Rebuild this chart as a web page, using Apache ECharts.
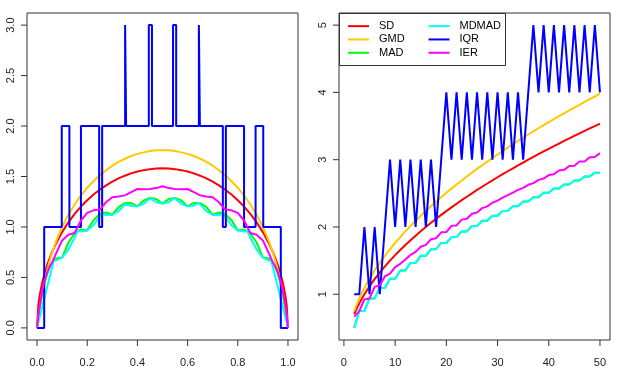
<!DOCTYPE html>
<html>
<head>
<meta charset="utf-8">
<script src="https://cdn.jsdelivr.net/npm/echarts@6/dist/echarts.min.js"></script>
<style>
  html, body { margin: 0; padding: 0; background: #fff; }
  #chart { width: 624px; height: 367px; }
</style>
</head>
<body>
<div id="chart"></div>
<script>
// left panel: p on x
const pGrid = [0, 0.005, 0.01, 0.02, 0.03, 0.04, 0.05, 0.06, 0.075, 0.1, 0.125, 0.15, 0.175, 0.2, 0.225, 0.25, 0.275, 0.3, 0.325, 0.35, 0.375, 0.4, 0.425, 0.45, 0.475, 0.5,
  0.525, 0.55, 0.575, 0.6, 0.625, 0.65, 0.675, 0.7, 0.725, 0.75, 0.775, 0.8, 0.825, 0.85, 0.875, 0.9, 0.925, 0.94, 0.95, 0.96, 0.97, 0.98, 0.99, 0.995, 1]
const sdL = [0, 0.223, 0.315, 0.443, 0.539, 0.620, 0.689, 0.751, 0.833, 0.949, 1.046, 1.129, 1.202, 1.265, 1.321, 1.369, 1.412, 1.449, 1.481, 1.508, 1.531, 1.549, 1.563, 1.573, 1.579, 1.581,
  1.579, 1.573, 1.563, 1.549, 1.531, 1.508, 1.481, 1.449, 1.412, 1.369, 1.321, 1.265, 1.202, 1.129, 1.046, 0.949, 0.833, 0.751, 0.689, 0.620, 0.539, 0.443, 0.315, 0.223, 0]
const gmdL = [0, 0.095, 0.182, 0.332, 0.460, 0.569, 0.663, 0.746, 0.853, 1.002, 1.122, 1.225, 1.311, 1.389, 1.453, 1.512, 1.562, 1.607, 1.644, 1.676, 1.703, 1.724, 1.739, 1.752, 1.759, 1.761,
  1.759, 1.752, 1.739, 1.724, 1.703, 1.676, 1.644, 1.607, 1.562, 1.512, 1.453, 1.389, 1.311, 1.225, 1.122, 1.002, 0.853, 0.746, 0.663, 0.569, 0.460, 0.332, 0.182, 0.095, 0]
const madL = [0, 0.095, 0.181, 0.327, 0.442, 0.532, 0.599, 0.646, 0.688, 0.697, 0.846, 0.938, 0.976, 0.966, 1.067, 1.126, 1.143, 1.121, 1.197, 1.236, 1.238, 1.204, 1.263, 1.287, 1.276, 1.231,
  1.276, 1.287, 1.263, 1.204, 1.238, 1.236, 1.197, 1.121, 1.143, 1.126, 1.067, 0.966, 0.976, 0.938, 0.846, 0.697, 0.688, 0.646, 0.599, 0.532, 0.442, 0.327, 0.181, 0.095, 0]
const ierL = [0, 0.119, 0.216, 0.363, 0.469, 0.547, 0.605, 0.647, 0.734, 0.867, 0.922, 0.940, 1.064, 1.139, 1.165, 1.172, 1.245, 1.294, 1.302, 1.313, 1.345, 1.376, 1.373, 1.376, 1.385, 1.403,
  1.385, 1.376, 1.373, 1.376, 1.345, 1.313, 1.302, 1.294, 1.245, 1.172, 1.165, 1.139, 1.064, 0.940, 0.922, 0.867, 0.734, 0.647, 0.605, 0.547, 0.469, 0.363, 0.216, 0.119, 0]
// MDMAD has its own grid (kinks where the median changes)
const pMdmad = [0, 0.005, 0.01, 0.02, 0.03, 0.04, 0.05, 0.06, 0.067, 0.075, 0.1, 0.125, 0.15, 0.162, 0.175, 0.2, 0.225, 0.25, 0.258, 0.275, 0.3, 0.325, 0.35, 0.355, 0.375, 0.4, 0.425, 0.45, 0.452, 0.475, 0.5,
  0.525, 0.548, 0.55, 0.575, 0.6, 0.625, 0.645, 0.65, 0.675, 0.7, 0.725, 0.742, 0.75, 0.775, 0.8, 0.825, 0.838, 0.85, 0.875, 0.9, 0.925, 0.933, 0.94, 0.95, 0.96, 0.97, 0.98, 0.99, 0.995, 1]
const mdmadL = [0, 0.05, 0.1, 0.2, 0.3, 0.4, 0.5, 0.6, 0.67, 0.667, 0.697, 0.776, 0.894, 0.962, 0.954, 0.966, 1.017, 1.101, 1.134, 1.119, 1.121, 1.156, 1.222, 1.239, 1.211, 1.204, 1.229, 1.283, 1.288, 1.245, 1.231,
  1.245, 1.288, 1.283, 1.229, 1.204, 1.211, 1.239, 1.222, 1.156, 1.121, 1.119, 1.134, 1.101, 1.017, 0.966, 0.954, 0.962, 0.894, 0.776, 0.697, 0.667, 0.67, 0.6, 0.5, 0.4, 0.3, 0.2, 0.1, 0.05, 0]
// IQR is a step function
const iqrP = [0, 0.0285, 0.0985, 0.129, 0.175, 0.2475, 0.2595, 0.351, 0.355, 0.4455, 0.458, 0.542, 0.5545, 0.645, 0.649, 0.7405, 0.7525, 0.825, 0.871, 0.9015, 0.9715, 1]
const iqrL = [0, 1, 2, 1, 2, 1, 2, 3, 2, 3, 2, 3, 2, 3, 2, 1, 2, 1, 2, 1, 0, 0]

// right panel: n on x
const nVals = [2, 3, 4, 5, 6, 7, 8, 9, 10, 11, 12, 13, 14, 15, 16, 17, 18, 19, 20, 21, 22, 23, 24, 25, 26,
  27, 28, 29, 30, 31, 32, 33, 34, 35, 36, 37, 38, 39, 40, 41, 42, 43, 44, 45, 46, 47, 48, 49, 50]
const sdR = [0.707, 0.866, 1, 1.118, 1.225, 1.323, 1.414, 1.5, 1.581, 1.658, 1.732, 1.803, 1.871, 1.936, 2, 2.062, 2.121, 2.179, 2.236, 2.291, 2.345, 2.398, 2.449, 2.5, 2.55,
  2.598, 2.646, 2.693, 2.739, 2.784, 2.828, 2.872, 2.915, 2.958, 3, 3.041, 3.082, 3.122, 3.162, 3.202, 3.24, 3.279, 3.317, 3.354, 3.391, 3.428, 3.464, 3.5, 3.536]
const gmdR = [0.75, 0.938, 1.094, 1.231, 1.354, 1.466, 1.571, 1.669, 1.762, 1.85, 1.934, 2.015, 2.092, 2.167, 2.239, 2.309, 2.377, 2.443, 2.508, 2.57, 2.631, 2.691, 2.75, 2.807, 2.863,
  2.918, 2.972, 3.025, 3.077, 3.129, 3.179, 3.229, 3.278, 3.326, 3.374, 3.42, 3.467, 3.512, 3.557, 3.602, 3.646, 3.689, 3.732, 3.774, 3.816, 3.858, 3.899, 3.939, 3.98]
const madR = [0.5, 0.75, 0.75, 0.938, 0.938, 1.094, 1.094, 1.231, 1.231, 1.354, 1.354, 1.466, 1.466, 1.571, 1.571, 1.669, 1.669, 1.762, 1.762, 1.85, 1.85, 1.934, 1.934, 2.015, 2.015,
  2.092, 2.092, 2.167, 2.167, 2.239, 2.239, 2.309, 2.309, 2.377, 2.377, 2.443, 2.443, 2.508, 2.508, 2.57, 2.57, 2.631, 2.631, 2.691, 2.691, 2.75, 2.75, 2.807, 2.807]
const mdmadR = [0.5, 0.75, 0.75, 0.938, 0.938, 1.094, 1.094, 1.231, 1.231, 1.354, 1.354, 1.466, 1.466, 1.571, 1.571, 1.669, 1.669, 1.762, 1.762, 1.85, 1.85, 1.934, 1.934, 2.015, 2.015,
  2.092, 2.092, 2.167, 2.167, 2.239, 2.239, 2.309, 2.309, 2.377, 2.377, 2.443, 2.443, 2.508, 2.508, 2.57, 2.57, 2.631, 2.631, 2.691, 2.691, 2.75, 2.75, 2.807, 2.807]
const iqrR = [1, 1, 2, 1, 2, 1, 2, 3, 2, 3, 2, 3, 2, 3, 2, 3, 2, 3, 4, 3, 4, 3, 4, 3, 4,
  3, 4, 3, 4, 3, 4, 3, 4, 3, 4, 5, 4, 5, 4, 5, 4, 5, 4, 5, 4, 5, 4, 5, 4]
const ierR = [0.667, 0.75, 0.923, 0.938, 1.111, 1.129, 1.267, 1.306, 1.403, 1.452, 1.517, 1.585, 1.63, 1.706, 1.734, 1.817, 1.832, 1.92, 1.924, 2.017, 2.023, 2.109, 2.122, 2.196, 2.216,
  2.28, 2.306, 2.36, 2.391, 2.437, 2.473, 2.511, 2.551, 2.582, 2.627, 2.652, 2.7, 2.719, 2.771, 2.785, 2.84, 2.849, 2.907, 2.911, 2.972, 2.972, 3.035, 3.039, 3.097]

// tick labels
const xTicksL = [0, 0.2, 0.4, 0.6, 0.8, 1]
const yTicksL = [0, 0.5, 1, 1.5, 2, 2.5, 3]
const xTicksR = [0, 10, 20, 30, 40, 50]
const yTicksR = [1, 2, 3, 4, 5]

// axis ranges (R adds 4% on each side)
const xRangeL = [-0.04, 1.04]
const yRangeL = [-0.12, 3.12]
const xRangeR = [-0.96, 51.96]
const yRangeR = [0.32, 5.18]

const colors = { SD: '#ff0000', GMD: '#ffc800', MAD: '#00ff00', MDMAD: '#00ffff', IQR: '#0000ff', IER: '#ff00ff' }
const font = '"Liberation Sans", Arial, sans-serif'

const pairs = (xs, ys) => xs.map((x, i) => [x, ys[i]])

// 一条线
const line = (name, xs, ys, idx, extra) => Object.assign({
  type: 'line',
  name: name,
  xAxisIndex: idx,
  yAxisIndex: idx,
  data: pairs(xs, ys),
  symbol: 'none',
  showSymbol: false,
  silent: true,
  lineStyle: { color: colors[name], width: 2 },
  itemStyle: { color: colors[name] },
}, extra)

// 刻度线放进标签里（富文本小方块），文字在外侧
const tickRich = {
  t: { width: 1, height: 6, lineHeight: 6, backgroundColor: '#333' },
  sx: { height: 11, lineHeight: 11 },
  sy: { height: 5, lineHeight: 5 },
  n: { fontSize: 11, lineHeight: 11, fontFamily: font, color: '#222' },
}

const axisBase = (range, ticksV, fmt, isY) => ({
  type: 'value',
  min: range[0],
  max: range[1],
  axisLine: { show: false, onZero: false },
  splitLine: { show: false },
  axisTick: { show: false },
  axisLabel: {
    customValues: ticksV,
    formatter: isY
      ? v => '{n|' + fmt(v) + '}\n{sy|}\n{t|}'
      : v => '{t|}\n{sx|}\n{n|' + fmt(v) + '}',
    rotate: isY ? 90 : 0,
    margin: 0,
    rich: tickRich,
  },
})

const legendBase = {
  orient: 'vertical',
  top: 19.5,
  padding: 0,
  itemGap: 0,
  itemWidth: 21,
  itemHeight: 2,
  icon: 'rect',
  selectedMode: false,
  textStyle: { fontSize: 11, fontFamily: font, color: '#000', lineHeight: 13.3, padding: [0, 0, 0, 5] },
}

const option = {
  animation: false,
  backgroundColor: '#fff',
  grid: [
    { left: 27, top: 13, width: 271, height: 327, show: true, borderColor: '#333', borderWidth: 1, backgroundColor: 'transparent', outerBoundsMode: 'none' },
    { left: 339, top: 13, width: 271, height: 327, show: true, borderColor: '#333', borderWidth: 1, backgroundColor: 'transparent', outerBoundsMode: 'none' },
  ],
  xAxis: [
    Object.assign(axisBase(xRangeL, xTicksL, v => v.toFixed(1), false), { gridIndex: 0, position: 'bottom' }),
    Object.assign(axisBase(xRangeR, xTicksR, v => String(v), false), { gridIndex: 1, position: 'bottom' }),
  ],
  yAxis: [
    Object.assign(axisBase(yRangeL, yTicksL, v => v.toFixed(1), true), { gridIndex: 0, position: 'left' }),
    Object.assign(axisBase(yRangeR, yTicksR, v => String(v), true), { gridIndex: 1, position: 'left' }),
  ],
  legend: [
    Object.assign({}, legendBase, { left: 348, data: ['SD', 'GMD', 'MAD'] }),
    Object.assign({}, legendBase, { left: 428.5, data: ['MDMAD', 'IQR', 'IER'] }),
  ],
  graphic: [
    // legend box
    { type: 'rect', z: 3, silent: true, shape: { x: 339.5, y: 13.5, width: 166, height: 52 }, style: { fill: '#fff', stroke: '#333', lineWidth: 1 } },
  ],
  series: [
    line('SD', pGrid, sdL, 0),
    line('GMD', pGrid, gmdL, 0),
    line('MAD', pGrid, madL, 0),
    line('MDMAD', pMdmad, mdmadL, 0),
    line('IQR', iqrP, iqrL, 0, { step: 'end' }),
    line('IER', pGrid, ierL, 0),
    line('SD', nVals, sdR, 1),
    line('GMD', nVals, gmdR, 1),
    line('MAD', nVals, madR, 1),
    line('MDMAD', nVals, mdmadR, 1),
    line('IQR', nVals, iqrR, 1),
    line('IER', nVals, ierR, 1),
  ],
}

const chart = echarts.init(document.getElementById('chart'), null, { renderer: 'canvas' })
chart.setOption(option)
</script>
</body>
</html>
